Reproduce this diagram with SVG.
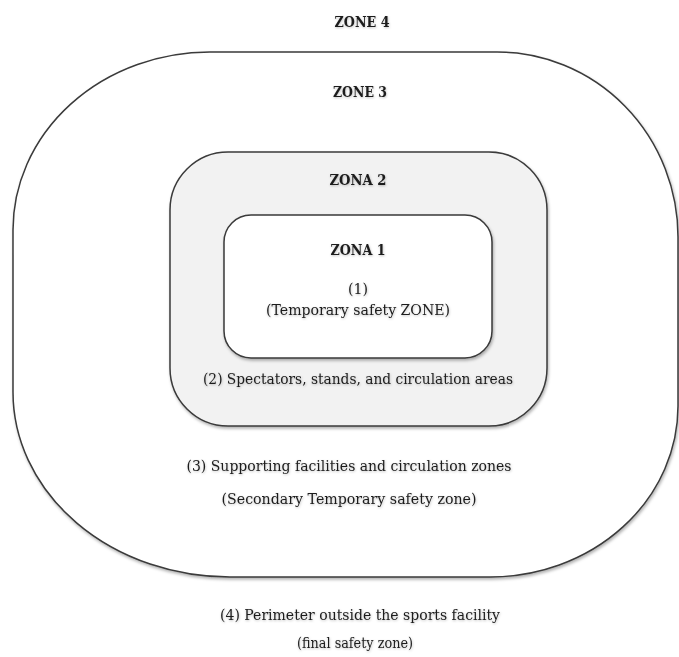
<svg xmlns="http://www.w3.org/2000/svg" width="679" height="657" viewBox="0 0 679 657">
  <defs>
    <filter id="sh" x="-5%" y="-5%" width="110%" height="112%">
      <feDropShadow dx="1" dy="2" stdDeviation="1.5" flood-color="#000" flood-opacity="0.3"/>
    </filter>
    <filter id="tsh" x="-5%" y="-30%" width="110%" height="160%">
      <feDropShadow dx="0.5" dy="1" stdDeviation="1" flood-color="#000" flood-opacity="0.25"/>
    </filter>
  </defs>
  <style>
    .zone { stroke: #3a3a3a; stroke-width: 1.5; }
    .t { font-family: "DejaVu Serif", "Liberation Serif", serif; font-size: 15px; fill: #1c1c1c; text-anchor: middle; filter: url(#tsh); }
    .b { font-weight: bold; }
  </style>
  <rect width="679" height="657" fill="#ffffff"/>

  <g id="zone4">
    <text class="t b" x="362" y="27" textLength="55" lengthAdjust="spacingAndGlyphs">ZONE 4</text>
    <text class="t" x="360" y="620" textLength="280" lengthAdjust="spacingAndGlyphs">(4) Perimeter outside the sports facility</text>
    <text class="t" x="355" y="648" textLength="116" lengthAdjust="spacingAndGlyphs">(final safety zone)</text>
  </g>

  <g id="zone3">
    <path class="zone" fill="#ffffff" filter="url(#sh)" d="M 210 52 H 497 A 181 185 0 0 1 678 237 V 406 A 188 171 0 0 1 490 577 H 230 A 217 185 0 0 1 13 392 V 230 A 197 178 0 0 1 210 52 Z"/>
    <text class="t b" x="360" y="97" textLength="54" lengthAdjust="spacingAndGlyphs">ZONE 3</text>
    <text class="t" x="349" y="471" textLength="325" lengthAdjust="spacingAndGlyphs">(3) Supporting facilities and circulation zones</text>
    <text class="t" x="349" y="504" textLength="255" lengthAdjust="spacingAndGlyphs">(Secondary Temporary safety zone)</text>
  </g>

  <g id="zone2">
    <rect class="zone" fill="#f2f2f2" filter="url(#sh)" x="170" y="152" width="377" height="274" rx="58" ry="58"/>
    <text class="t b" x="358" y="185" textLength="57" lengthAdjust="spacingAndGlyphs">ZONA 2</text>
    <text class="t" x="358" y="384" textLength="310" lengthAdjust="spacingAndGlyphs">(2) Spectators, stands, and circulation areas</text>
  </g>

  <g id="zone1">
    <rect class="zone" fill="#ffffff" filter="url(#sh)" x="224" y="215" width="268" height="143" rx="27" ry="27"/>
    <text class="t b" x="358" y="255" textLength="55" lengthAdjust="spacingAndGlyphs">ZONA 1</text>
    <text class="t" x="358" y="294" textLength="20" lengthAdjust="spacingAndGlyphs">(1)</text>
    <text class="t" x="358" y="315" textLength="184" lengthAdjust="spacingAndGlyphs">(Temporary safety ZONE)</text>
  </g>

  <g id="connectors"/>
</svg>
